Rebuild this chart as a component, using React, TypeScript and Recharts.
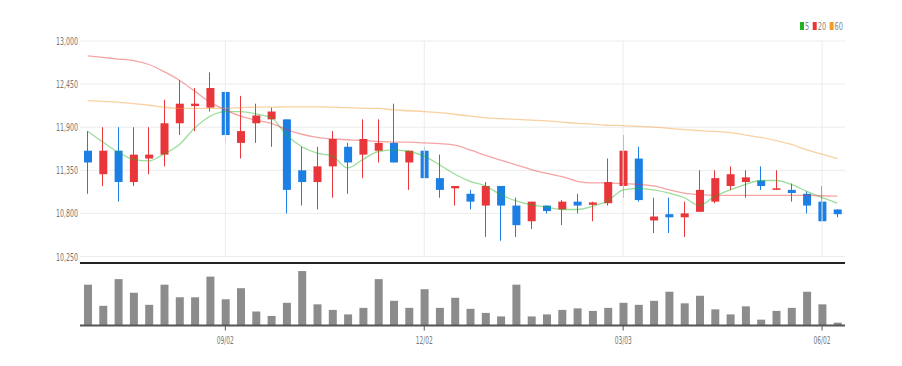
import React from "react";
import { ComposedChart, Bar, Line, XAxis, YAxis, CartesianGrid, ReferenceLine } from "recharts";

// weekly candles
const dates = [
  "07/01", "07/08", "07/15", "07/22", "07/29", "08/05", "08/12", "08/19", "08/26", "09/02",
  "09/09", "09/16", "09/23", "09/30", "10/07", "10/14", "10/21", "10/28", "11/04", "11/11",
  "11/18", "11/25", "12/02", "12/09", "12/16", "12/23", "12/30", "01/06", "01/13", "01/20",
  "01/27", "02/03", "02/10", "02/17", "02/24", "03/03", "03/10", "03/17", "03/24", "03/31",
  "04/07", "04/14", "04/21", "04/28", "05/05", "05/12", "05/19", "05/26", "06/02", "06/09",
];
const openPrices = [
  11600, 11300, 11600, 11200, 11500, 11550, 11950, 12170, 12150, 12350,
  11700, 11950, 12000, 12000, 11350, 11200, 11400, 11650, 11550, 11600,
  11700, 11450, 11600, 11250, 11120, 11050, 10900, 11150, 10900, 10700,
  10900, 10850, 10950, 10910, 10930, 11150, 11500, 10710, 10790, 10750,
  10820, 10950, 11150, 11200, 11220, 11100, 11100, 11050, 10950, 10850,
];
const highPrices = [
  11850, 11900, 11900, 11900, 11900, 12250, 12500, 12400, 12600, 12350,
  12300, 12200, 12150, 12000, 11650, 11650, 11850, 11700, 12000, 12000,
  12200, 11600, 11650, 11550, 11150, 11100, 11200, 11150, 11000, 10950,
  10900, 10970, 11050, 10950, 11500, 11800, 11650, 11000, 11000, 10950,
  11350, 11350, 11400, 11350, 11400, 11350, 11180, 11080, 11150, 10850,
];
const lowPrices = [
  11050, 11150, 10950, 11150, 11300, 11400, 11800, 11850, 12100, 11700,
  11500, 11700, 11650, 10800, 10900, 10850, 11000, 11050, 11250, 11450,
  11450, 11100, 11250, 11000, 10900, 10850, 10500, 10450, 10500, 10600,
  10800, 10650, 10800, 10700, 10900, 11000, 10950, 10550, 10550, 10500,
  10820, 10930, 11100, 11000, 11100, 11100, 10950, 10800, 10700, 10750,
];
const closePrices = [
  11450, 11600, 11200, 11550, 11550, 11950, 12200, 12200, 12400, 11800,
  11850, 12050, 12100, 11100, 11200, 11400, 11750, 11450, 11750, 11700,
  11450, 11600, 11250, 11100, 11150, 10950, 11150, 10900, 10650, 10950,
  10830, 10950, 10900, 10940, 11200, 11600, 10970, 10760, 10750, 10800,
  11100, 11250, 11300, 11260, 11150, 11120, 11060, 10900, 10700, 10790,
];
const ma5 = [
  11850, 11710, 11580, 11490, 11470, 11560, 11680, 11890, 12040, 12100,
  12100, 12070, 12020, 11800, 11650, 11570, 11530, 11380, 11490, 11590,
  11610, 11590, 11530, 11420, 11300, 11210, 11150, 11040, 10960, 10910,
  10880, 10850, 10850, 10890, 10960, 11100, 11120, 11100, 11060, 11000,
  10900, 11020, 11100, 11170, 11220, 11220, 11170, 11080, 11000, 10930,
];
const ma20 = [
  12810, 12790, 12770, 12750, 12700, 12610, 12500, 12360, 12220, 12120,
  12040, 11990, 11950, 11870, 11810, 11770, 11750, 11740, 11730, 11720,
  11710, 11710, 11700, 11690, 11670, 11610, 11540, 11480, 11420, 11360,
  11310, 11270, 11210, 11190, 11190, 11180, 11170, 11150, 11100, 11060,
  11040, 11030, 11030, 11030, 11030, 11030, 11030, 11030, 11025, 11020,
];
const ma60 = [
  12240, 12230, 12220, 12200, 12180, 12155, 12140, 12140, 12140, 12140,
  12150, 12155, 12155, 12160, 12160, 12160, 12155, 12150, 12140, 12140,
  12120, 12110, 12100, 12085, 12065, 12040, 12020, 12010, 12000, 11990,
  11980, 11965, 11950, 11940, 11925, 11920, 11910, 11900, 11885, 11870,
  11855, 11845, 11830, 11800, 11770, 11730, 11680, 11610, 11555, 11500,
];
const volumes = [
  405, 195, 460, 325, 205, 405, 280, 280, 485, 260,
  370, 140, 95, 225, 540, 210, 155, 110, 175, 460,
  245, 175, 360, 175, 275, 165, 125, 90, 405, 90,
  110, 155, 170, 145, 175, 225, 205, 245, 335, 220,
  295, 160, 110, 190, 58, 145, 175, 335, 210, 28,
];
const dateTicks = ["09/02", "12/02", "03/03", "06/02"];
const priceTicks = [10250, 10800, 11350, 11900, 12450, 13000];

const UP = "#e8363a";
const DOWN = "#1b7fe3";
const FONT = "'Liberation Sans Narrow', 'DejaVu Sans Condensed', 'Liberation Sans', sans-serif";

const maSeries = [
  { key: "ma5", name: "5", color: "#22b322" },
  { key: "ma20", name: "20", color: "#e8363a" },
  { key: "ma60", name: "60", color: "#f29a2e" },
];

const data = dates.map((date, i) => ({
  date,
  open: openPrices[i],
  high: highPrices[i],
  low: lowPrices[i],
  close: closePrices[i],
  range: [lowPrices[i], highPrices[i]],
  ma5: ma5[i],
  ma20: ma20[i],
  ma60: ma60[i],
  volume: volumes[i],
}));

const Candle = (props: any) => {
  const { x, y, width, height, payload } = props;
  const { open, close, high, low } = payload;
  const ratio = height / (high - low);
  const yOf = (v: number) => y + (high - v) * ratio;
  const color = close >= open ? UP : DOWN;
  const top = yOf(Math.max(open, close));
  const bodyH = Math.max(yOf(Math.min(open, close)) - top, 1.5);
  const cx = Math.round(x + width / 2) - 0.5;
  return (
    <g>
      <line x1={cx} x2={cx} y1={y} y2={y + height} stroke={color} strokeWidth={1} />
      <rect x={x} y={top} width={width} height={bodyH} fill={color} />
    </g>
  );
};

const PriceTick = ({ x, y, payload }: any) => (
  <text x={x} y={y} dy={4} textAnchor="end" fontSize={11} fill="#777" fontFamily={FONT}
    textLength={22} lengthAdjust="spacingAndGlyphs">
    {Number(payload.value).toLocaleString("en-US")}
  </text>
);

const DateTick = ({ x, y, payload }: any) => (
  <text x={x} y={y} dy={11} textAnchor="middle" fontSize={11} fill="#777" fontFamily={FONT}
    textLength={17} lengthAdjust="spacingAndGlyphs">
    {payload.value}
  </text>
);

const MaLegend = () => {
  let cursor = 0;
  return (
    <svg width={50} height={12} style={{ position: "absolute", left: 800, top: 20 }}>
      {maSeries.map((s) => {
        const w = s.name.length * 4.2;
        const x0 = cursor;
        cursor += 5 + w + 3.5;
        return (
          <g key={s.key}>
            <rect x={x0} y={2} width={4} height={8} fill={s.color} />
            <text x={x0 + 5} y={10} fontSize={10} fill="#888" fontFamily={FONT}
              textLength={w} lengthAdjust="spacingAndGlyphs">{s.name}</text>
          </g>
        );
      })}
    </svg>
  );
};

export default function App() {
  return (
    <div style={{ position: "absolute", left: 0, top: 0, width: 902, height: 366, background: "#fff" }}>
      <div style={{ position: "absolute", left: 0, top: 0 }}>
        <ComposedChart width={902} height={266} data={data}
          margin={{ top: 41, right: 57, left: 0, bottom: 9.5 }}>
          <CartesianGrid stroke="#ececec" vertical={false} />
          <XAxis dataKey="date" hide />
          <YAxis domain={[10250, 13000]} ticks={priceTicks} interval={0} width={80} axisLine={false}
            tickLine={false} tickSize={0} tickMargin={2} tick={<PriceTick />} allowDataOverflow />
          {dateTicks.map((d) => (
            <ReferenceLine key={d} x={d} stroke="#ececec" />
          ))}
          {maSeries.map((s) => (
            <Line key={s.key} dataKey={s.key} type="monotone" stroke={s.color} strokeOpacity={0.45}
              strokeWidth={1.3} dot={false} activeDot={false} isAnimationActive={false} />
          ))}
          <Bar dataKey="range" barSize={8} shape={<Candle />} isAnimationActive={false} />
        </ComposedChart>
      </div>
      <div style={{ position: "absolute", left: 0, top: 250 }}>
        <ComposedChart width={902} height={110} data={data}
          margin={{ top: 13, right: 57, left: 80, bottom: 0 }}>
          <XAxis dataKey="date" ticks={dateTicks} interval={0} height={34.5}
            axisLine={{ stroke: "#555", strokeWidth: 2 }} tickLine={{ stroke: "#555" }}
            tickSize={5} tickMargin={2} tick={<DateTick />} />
          <YAxis domain={[0, 620]} hide width={0} />
          <ReferenceLine y={620} stroke="#222" strokeWidth={2} />
          <Bar dataKey="volume" barSize={8} fill="#8c8c8c" isAnimationActive={false} />
        </ComposedChart>
      </div>
      <MaLegend />
    </div>
  );
}
